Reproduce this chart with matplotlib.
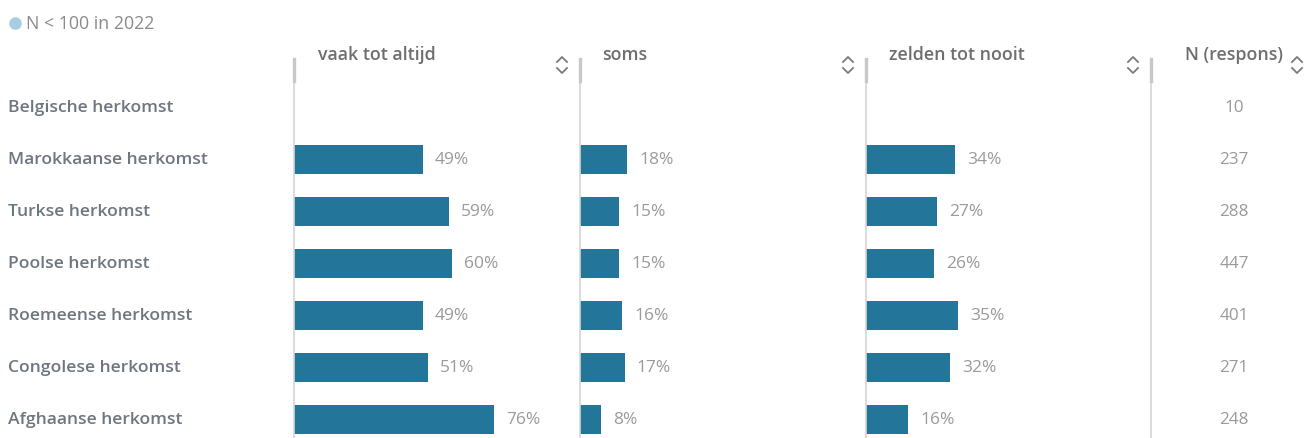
import matplotlib
matplotlib.use("Agg")
import matplotlib.pyplot as plt
from matplotlib.lines import Line2D

categories = ["Belgische herkomst", "Marokkaanse herkomst", "Turkse herkomst",
              "Poolse herkomst", "Roemeense herkomst", "Congolese herkomst",
              "Afghaanse herkomst"]
vaak = [None, 49, 59, 60, 49, 51, 76]
soms = [None, 18, 15, 15, 16, 17, 8]
zelden = [None, 34, 27, 26, 35, 32, 16]
n_respons = [10, 237, 288, 447, 401, 271, 248]
headers = ["vaak tot altijd", "soms", "zelden tot nooit", "N (respons)"]
legend_text = "N < 100 in 2022"

W, H = 1304, 439
fig = plt.figure(figsize=(W / 100, H / 100), dpi=100)
fig.patch.set_facecolor("white")

FONT = "Open Sans"
BAR = "#24759a"
LABEL_C = "#6e7680"
PCT_C = "#9a9a9a"
LINE_C = "#d6d6d6"

top_px, row0, step = 80, 108.5, 52
ylim = ((H - row0) / step, -(row0 - top_px) / step)


def fx(px):
    return px / W


def fy(py):
    return 1 - py / H


def make_ax(x0, x1):
    ax = fig.add_axes([fx(x0), 0, fx(x1 - x0), fy(top_px)])
    ax.set_ylim(*ylim)
    ax.axis("off")
    return ax


# row labels
lab_ax = make_ax(0, 294)
lab_ax.set_xlim(0, 294)
for i, c in enumerate(categories):
    lab_ax.text(8, i, c, ha="left", va="center", fontsize=12.6, color=LABEL_C,
                family=FONT, fontweight="semibold")

panel_x = [294, 580, 866]
panel_w = 286
scale = 2.63  # px per percent
series = [vaak, soms, zelden]
for x0, vals in zip(panel_x, series):
    ax = make_ax(x0, x0 + panel_w)
    ax.set_xlim(0, panel_w / scale)
    ys = [i for i, v in enumerate(vals) if v is not None]
    vs = [v for v in vals if v is not None]
    ax.barh(ys, vs, height=0.54, color=BAR, edgecolor="none")
    pad = 12 / scale
    for y, v in zip(ys, vs):
        ax.text(v + pad, y, f"{v}%", ha="left", va="center", fontsize=12.5,
                color=PCT_C, family=FONT)

# N column
n_ax = make_ax(1151, 1304)
n_ax.set_xlim(1151, 1304)
for i, n in enumerate(n_respons):
    n_ax.text(1234, i, str(n), ha="center", va="center", fontsize=12.3,
              color=PCT_C, family=FONT)

# vertical separators
for xp in [294, 580, 866, 1151]:
    fig.add_artist(Line2D([fx(xp), fx(xp)], [fy(60), 0], color=LINE_C, lw=1.2,
                          transform=fig.transFigure))
    fig.add_artist(Line2D([fx(xp), fx(xp)], [fy(60), fy(82)], color="#c8c8c8",
                          lw=2.4, transform=fig.transFigure))

# headers
head_pos = [(318, "left"), (602, "left"), (889, "left"), (1234, "center")]
for (xp, ha), h in zip(head_pos, headers):
    fig.text(fx(xp), fy(55), h, ha=ha, va="center", fontsize=12.8,
             color="#6e6e6e", family=FONT, fontweight="semibold")

# sort icons
for xc in [562, 848, 1133, 1297]:
    yc = 66
    fig.add_artist(Line2D([fx(xc - 5), fx(xc), fx(xc + 5)],
                          [fy(yc - 3), fy(yc - 8), fy(yc - 3)],
                          color="#7a7a7a", lw=1.3, transform=fig.transFigure))
    fig.add_artist(Line2D([fx(xc - 5), fx(xc), fx(xc + 5)],
                          [fy(yc + 3), fy(yc + 8), fy(yc + 3)],
                          color="#7a7a7a", lw=1.3, transform=fig.transFigure))

# legend
fig.add_artist(Line2D([fx(15)], [fy(24)], marker="o", markersize=8,
                      color="#a6cde0", transform=fig.transFigure, lw=0))
fig.text(fx(26), fy(24), legend_text, ha="left", va="center", fontsize=12.8,
         color="#8a8a8a", family=FONT)

fig.savefig("out.png", dpi=100, facecolor="white")
